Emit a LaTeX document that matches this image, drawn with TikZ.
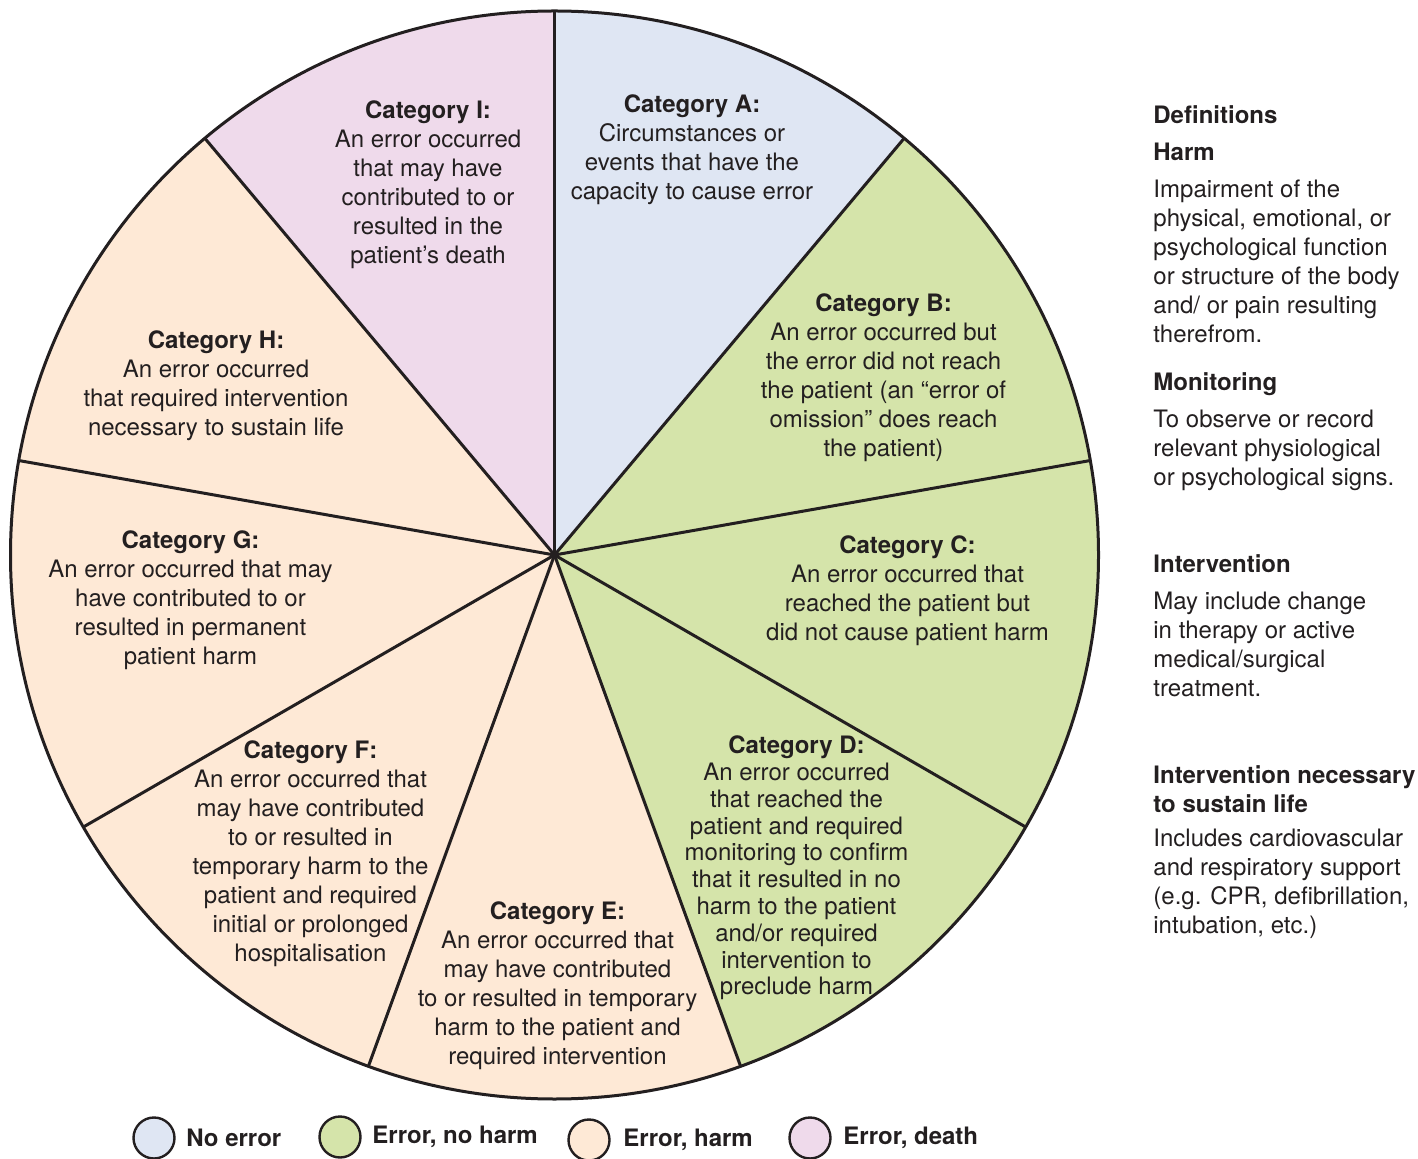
\documentclass[tikz,border=0pt]{standalone}
\usepackage{fontspec}
\setmainfont{TeX Gyre Heros}
\definecolor{txt}{HTML}{231F20}
\definecolor{cNo}{HTML}{DFE6F3}
\definecolor{cNoHarm}{HTML}{D5E4AA}
\definecolor{cHarm}{HTML}{FEE9D6}
\definecolor{cDeath}{HTML}{EFDAEB}
\begin{document}
\begin{tikzpicture}[x=0.5pt,y=-0.5pt,
  cat/.style={align=center, font=\fontsize{12}{14.5}\selectfont, text=txt, inner sep=0pt},
  catd/.style={align=center, font=\fontsize{12}{13.4}\selectfont, text=txt, inner sep=0pt},
  defhead/.style={anchor=west, align=left, font=\fontsize{12}{14.5}\selectfont\bfseries, text=txt, inner sep=0pt},
  defbody/.style={anchor=west, align=left, font=\fontsize{12}{14.5}\selectfont, text=txt, inner sep=0pt},
  spoke/.style={draw=txt, line width=1.5pt},
  legdot/.style={circle, draw=txt, line width=1.2pt, minimum size=20.5pt, inner sep=0pt},
  leglab/.style={anchor=west, font=\fontsize{12}{14.5}\selectfont\bfseries, text=txt, inner sep=0pt}]
\useasboundingbox (0,0) rectangle (1418,1159);
\coordinate (O) at (554.5,555);
\begin{scope}[shift={(O)}, x=1pt, y=1pt]
  \fill[cNo] (0,0) -- (90:272) arc[start angle=90, end angle=50, radius=272] -- cycle;
  \fill[cNoHarm] (0,0) -- (50:272) arc[start angle=50, end angle=-70, radius=272] -- cycle;
  \fill[cHarm] (0,0) -- (-70:272) arc[start angle=-70, end angle=-230, radius=272] -- cycle;
  \fill[cDeath] (0,0) -- (130:272) arc[start angle=130, end angle=90, radius=272] -- cycle;
  \foreach \a in {90,50,10,-30,-70,-110,-150,170,130}
    \draw[spoke] (0,0) -- (\a:272);
  \draw[spoke] (0,0) circle[radius=272];
\end{scope}

\node[cat] (catI) at (428,184.5) {\textbf{Category I:}\\An error occurred\\that may have\\contributed to or\\resulted in the\\patient’s death};
\node[cat] (catA) at (692,150) {\textbf{Category A:}\\Circumstances or\\events that have the\\capacity to cause error};
\node[cat] (catB) at (883.5,377.5) {\textbf{Category B:}\\An error occurred but\\the error did not reach\\the patient (an “error of\\omission” does reach\\the patient)};
\node[cat] (catC) at (907.5,591) {\textbf{Category C:}\\An error occurred that\\reached the patient but\\did not cause patient harm};
\node[catd] (catD) at (796.5,868) {\textbf{Category D:}\\An error occurred\\that reached the\\patient and required\\monitoring to confirm\\that it resulted in no\\harm to the patient\\and/or required\\intervention to\\preclude harm};
\node[cat] (catE) at (557.5,985.5) {\textbf{Category E:}\\An error occurred that\\may have contributed\\to or resulted in temporary\\harm to the patient and\\required intervention};
\node[cat] (catF) at (310.5,853.5) {\textbf{Category F:}\\An error occurred that\\may have contributed\\to or resulted in\\temporary harm to the\\patient and required\\initial or prolonged\\hospitalisation};
\node[cat] (catG) at (190.5,600) {\textbf{Category G:}\\An error occurred that may\\have contributed to or\\resulted in permanent\\patient harm};
\node[cat] (catH) at (216,385.5) {\textbf{Category H:}\\An error occurred\\that required intervention\\necessary to sustain life};

\node[defhead] (hdef) at (1153,115) {Definitions};
\node[defhead] (hharm) at (1153,152) {Harm};
\node[defbody] (bharm) at (1153,261.5) {Impairment of the\\physical, emotional, or\\psychological function\\or structure of the body\\and/ or pain resulting\\therefrom.};
\node[defhead] (hmon) at (1153,384) {Monitoring};
\node[defbody] (bmon) at (1153,450) {To observe or record\\relevant physiological\\or psychological signs.};
\node[defhead] (hint) at (1153,564) {Intervention};
\node[defbody] (bint) at (1153,644.5) {May include change\\in therapy or active\\medical/surgical\\treatment.};
\node[defhead] (hsus) at (1153,789) {Intervention necessary\\to sustain life};
\node[defbody] (bsus) at (1153,883.5) {Includes cardiovascular\\and respiratory support\\(e.g. CPR, defibrillation,\\intubation, etc.)};

\node[legdot, fill=cNo] (l1) at (154,1138) {};
\node[leglab] (t1) at (186,1138) {No error};
\node[legdot, fill=cNoHarm] (l2) at (340,1137) {};
\node[leglab] (t2) at (372,1137) {Error, no harm};
\node[legdot, fill=cHarm] (l3) at (589,1140) {};
\node[leglab] (t3) at (623,1140) {Error, harm};
\node[legdot, fill=cDeath] (l4) at (810,1138) {};
\node[leglab] (t4) at (843,1138) {Error, death};
\end{tikzpicture}
\end{document}
